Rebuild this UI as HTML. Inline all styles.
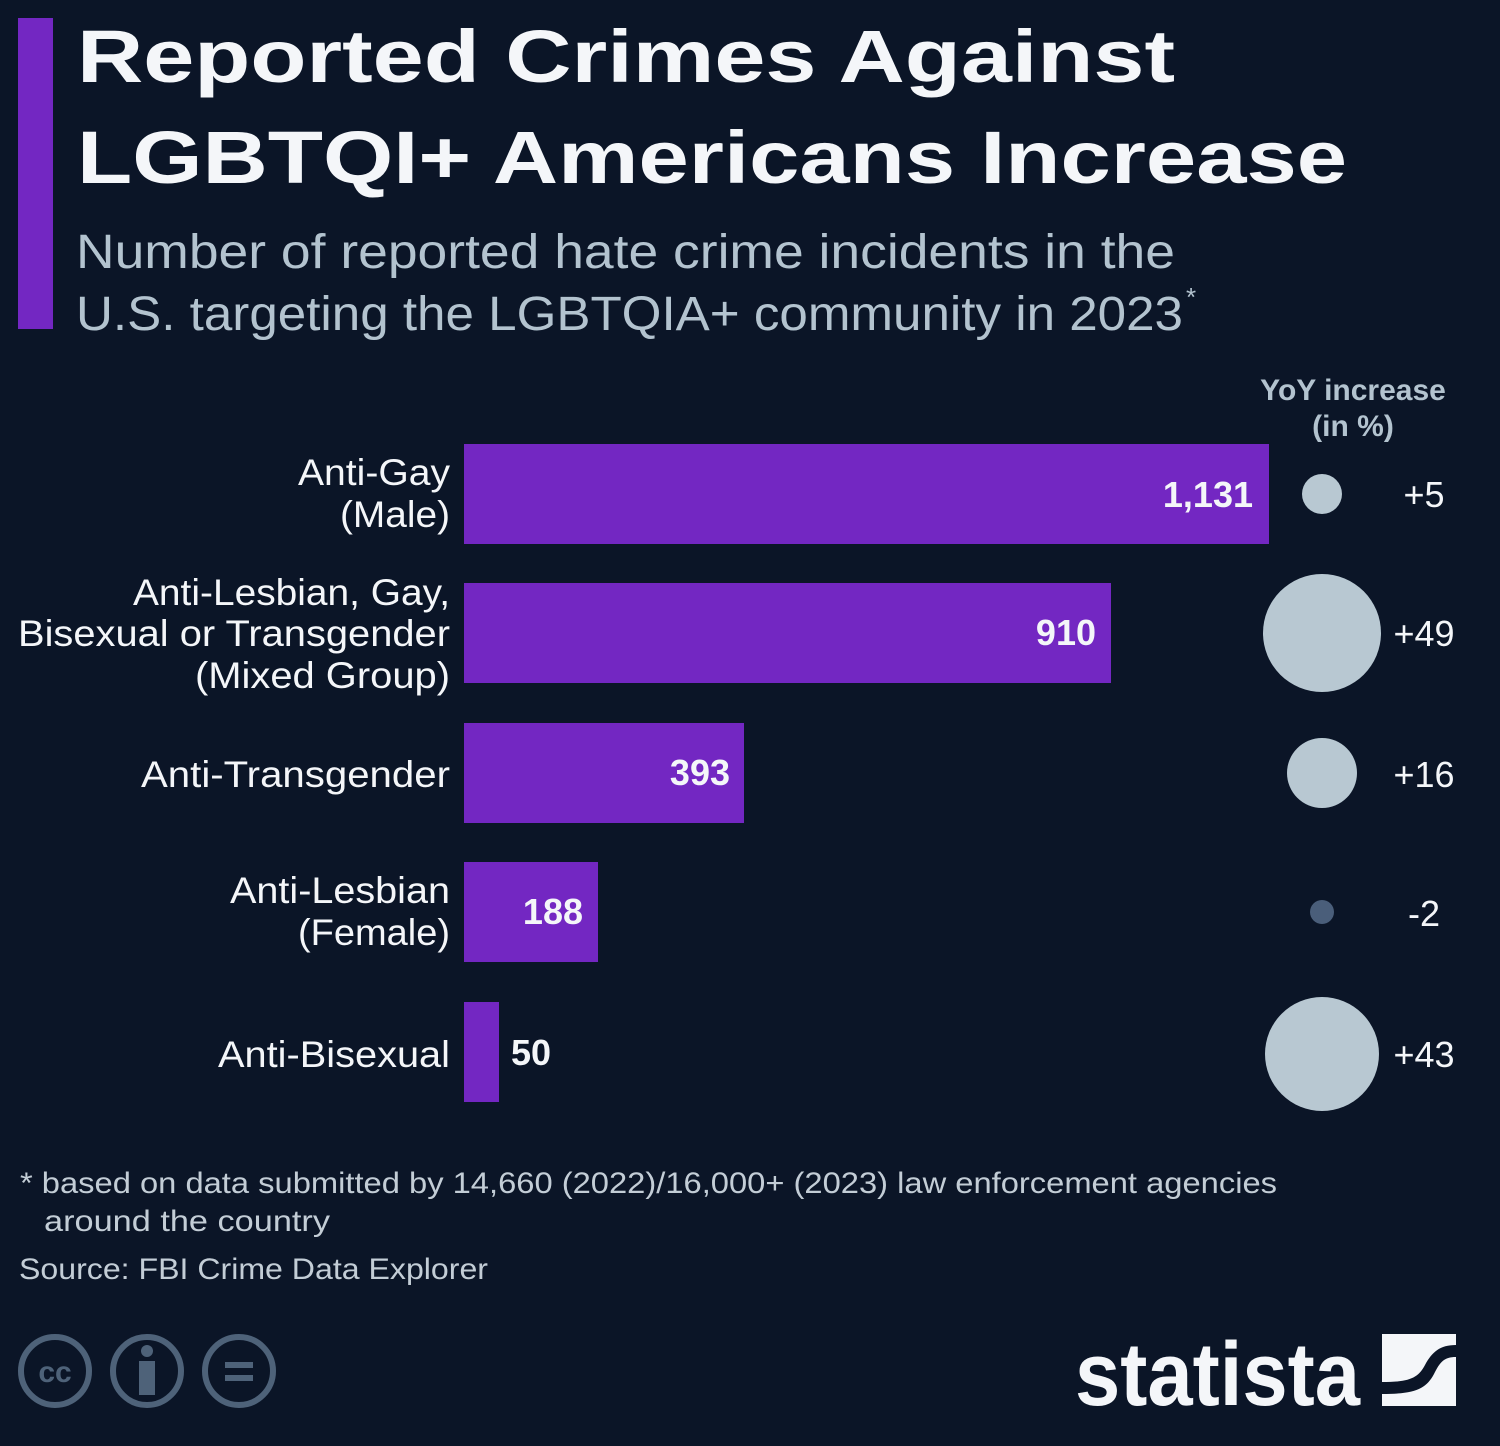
<!DOCTYPE html>
<html><head><meta charset="utf-8"><style>
html,body{margin:0;padding:0;background:#0b1527;}
svg{display:block;font-family:"Liberation Sans",sans-serif;}
</style></head><body>
<svg width="1500" height="1446" viewBox="0 0 1500 1446" xmlns="http://www.w3.org/2000/svg">
<rect width="1500" height="1446" fill="#0b1527"/>
<rect x="18" y="18" width="35" height="311" fill="#7327c2"/>
<g fill="#f4f6f9" font-weight="bold" font-size="74">
<text x="77" y="82" textLength="1098" lengthAdjust="spacingAndGlyphs">Reported Crimes Against</text>
<text x="77" y="183" textLength="1270" lengthAdjust="spacingAndGlyphs">LGBTQI+ Americans Increase</text>
</g>
<g fill="#b3c3cf" font-size="48">
<text x="76" y="268" textLength="1099" lengthAdjust="spacingAndGlyphs">Number of reported hate crime incidents in the</text>
<text x="76" y="330" textLength="1107" lengthAdjust="spacingAndGlyphs">U.S. targeting the LGBTQIA+ community in 2023</text>
<text x="1186" y="306" font-size="26">*</text>
</g>
<g fill="#b3c3cf" font-weight="bold" font-size="30" text-anchor="middle">
<text x="1353" y="400">YoY increase</text>
<text x="1353" y="436">(in %)</text>
</g>
<g fill="#7327c2">
<rect x="464" y="444" width="805" height="100"/>
<rect x="464" y="583" width="647" height="100"/>
<rect x="464" y="723" width="280" height="100"/>
<rect x="464" y="862" width="134" height="100"/>
<rect x="464" y="1002" width="35" height="100"/>
</g>
<g fill="#f4f6f9" font-size="37" text-anchor="end" lengthAdjust="spacingAndGlyphs">
<text x="450" y="485" textLength="152" lengthAdjust="spacingAndGlyphs">Anti-Gay</text>
<text x="450" y="527" textLength="110" lengthAdjust="spacingAndGlyphs">(Male)</text>
<text x="450" y="605" textLength="317" lengthAdjust="spacingAndGlyphs">Anti-Lesbian, Gay,</text>
<text x="450" y="646" textLength="432" lengthAdjust="spacingAndGlyphs">Bisexual or Transgender</text>
<text x="450" y="688" textLength="255" lengthAdjust="spacingAndGlyphs">(Mixed Group)</text>
<text x="450" y="787" textLength="309" lengthAdjust="spacingAndGlyphs">Anti-Transgender</text>
<text x="450" y="903" textLength="220" lengthAdjust="spacingAndGlyphs">Anti-Lesbian</text>
<text x="450" y="945" textLength="152" lengthAdjust="spacingAndGlyphs">(Female)</text>
<text x="450" y="1067" textLength="232" lengthAdjust="spacingAndGlyphs">Anti-Bisexual</text>
</g>
<g fill="#f4f6f9" font-size="36" font-weight="bold">
<text x="1253" y="507" text-anchor="end">1,131</text>
<text x="1096" y="645" text-anchor="end">910</text>
<text x="730" y="785" text-anchor="end">393</text>
<text x="583" y="924" text-anchor="end">188</text>
<text x="511" y="1065">50</text>
</g>
<g fill="#b8c8d2">
<circle cx="1322" cy="494" r="20"/>
<circle cx="1322" cy="633" r="59"/>
<circle cx="1322" cy="773" r="35"/>
<circle cx="1322" cy="912" r="12" fill="#4a5e7a"/>
<circle cx="1322" cy="1054" r="57"/>
</g>
<g fill="#f4f6f9" font-size="36" text-anchor="middle">
<text x="1424" y="507">+5</text>
<text x="1424" y="646">+49</text>
<text x="1424" y="787">+16</text>
<text x="1424" y="926">-2</text>
<text x="1424" y="1067">+43</text>
</g>
<g fill="#c3cdd6" font-size="30">
<text x="20" y="1193" textLength="1257" lengthAdjust="spacingAndGlyphs">* based on data submitted by 14,660 (2022)/16,000+ (2023) law enforcement agencies</text>
<text x="44" y="1231" textLength="286" lengthAdjust="spacingAndGlyphs">around the country</text>
<text x="19" y="1279" textLength="469" lengthAdjust="spacingAndGlyphs">Source: FBI Crime Data Explorer</text>
</g>
<g stroke="#4e6279" stroke-width="6" fill="none">
<circle cx="55" cy="1371" r="34"/>
<circle cx="147" cy="1371" r="34"/>
<circle cx="239" cy="1371" r="34"/>
</g>
<text x="55" y="1382" fill="#4e6279" font-size="30" font-weight="bold" text-anchor="middle">cc</text>
<g fill="#4e6279">
<circle cx="147" cy="1351" r="6"/>
<rect x="139" y="1361" width="16" height="34"/>
<rect x="225" y="1362" width="28" height="6"/>
<rect x="225" y="1375" width="28" height="6"/>
</g>
<text x="1075" y="1405" fill="#f4f6f9" font-size="90" font-weight="bold" textLength="285" lengthAdjust="spacingAndGlyphs">statista</text>
<rect x="1382" y="1334" width="74" height="72" fill="#f4f6f9"/>
<path d="M1382 1382 C1410 1382 1418 1378 1425 1365 C1432 1352 1440 1345 1456 1345 L1456 1357 C1444 1357 1440 1362 1434 1374 C1426 1389 1415 1394 1382 1394 Z" fill="#0b1527"/>
</svg>
</body></html>
